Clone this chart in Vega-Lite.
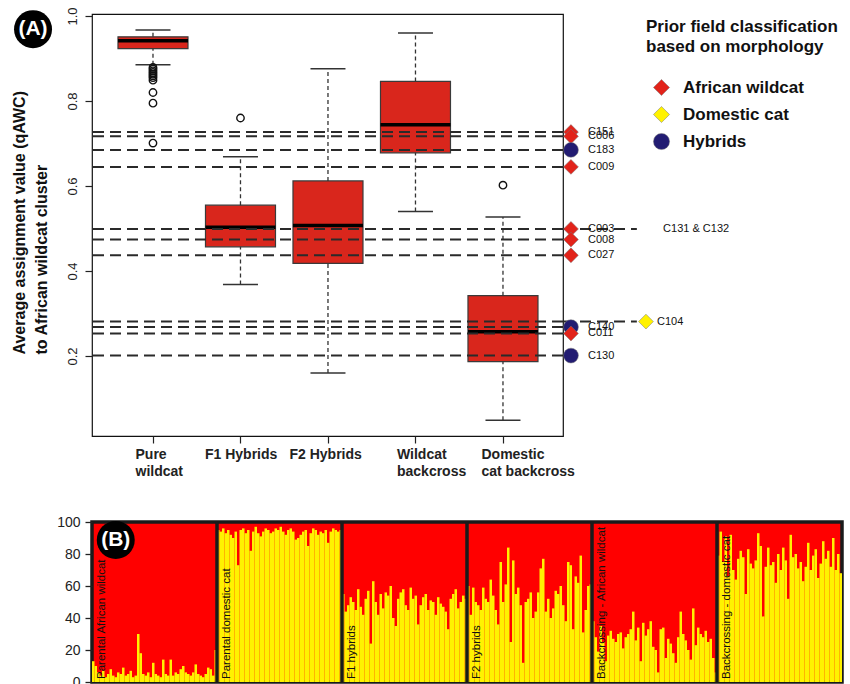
{
"$schema": "https://vega.github.io/schema/vega-lite/v6.json",
"padding": {"left": 10, "top": 6, "right": 0, "bottom": 0},
"spacing": 34,
"config": {"font": "Liberation Sans", "axis": {"grid": false, "labelOverlap": false}},
"datasets": {
"boxes": [
{"grp":"Pure wildcat","k":1,"lo":0.885,"q1":0.923,"med":0.942,"q3":0.951,"hi":0.967},
{"grp":"F1 Hybrids","k":2,"lo":0.368,"q1":0.457,"med":0.503,"q3":0.555,"hi":0.669},
{"grp":"F2 Hybrids","k":3,"lo":0.160,"q1":0.418,"med":0.507,"q3":0.612,"hi":0.876},
{"grp":"Wildcat backcross","k":4,"lo":0.540,"q1":0.678,"med":0.744,"q3":0.846,"hi":0.960},
{"grp":"Domestic cat backcross","k":5,"lo":0.049,"q1":0.187,"med":0.257,"q3":0.342,"hi":0.527}
],
"outliers": [
{"k":1,"q":0.879},{"k":1,"q":0.875},{"k":1,"q":0.871},{"k":1,"q":0.867},{"k":1,"q":0.863},{"k":1,"q":0.859},{"k":1,"q":0.855},{"k":1,"q":0.849},{"k":1,"q":0.820},{"k":1,"q":0.795},{"k":1,"q":0.701},{"k":2,"q":0.760},{"k":5,"q":0.602}
],
"samples": [
{"id":"C151","q":0.727,"cls":"African wildcat"},
{"id":"C006","q":0.717,"cls":"African wildcat"},
{"id":"C183","q":0.685,"cls":"Hybrids"},
{"id":"C009","q":0.645,"cls":"African wildcat"},
{"id":"C003","q":0.499,"cls":"African wildcat"},
{"id":"C008","q":0.474,"cls":"African wildcat"},
{"id":"C027","q":0.437,"cls":"African wildcat"},
{"id":"C104","q":0.281,"cls":"Domestic cat"},
{"id":"C140","q":0.268,"cls":"Hybrids"},
{"id":"C011","q":0.253,"cls":"African wildcat"},
{"id":"C130","q":0.201,"cls":"Hybrids"}
],
"groups": [
{"label":"Parental African wildcat","start":0},
{"label":"Parental domestic cat","start":50},
{"label":"F1 hybrids","start":100},
{"label":"F2 hybrids","start":150},
{"label":"Backcrossing - African wildcat","start":200},
{"label":"Backcrossing - domestic cat","start":250}
],
"structure": [
{"g":1,"i":0,"v":13},{"g":1,"i":1,"v":10},{"g":1,"i":2,"v":6},{"g":1,"i":3,"v":4},{"g":1,"i":4,"v":7},{"g":1,"i":5,"v":3},{"g":1,"i":6,"v":5},{"g":1,"i":7,"v":8},{"g":1,"i":8,"v":4},{"g":1,"i":9,"v":3},
{"g":1,"i":10,"v":6},{"g":1,"i":11,"v":5},{"g":1,"i":12,"v":9},{"g":1,"i":13,"v":4},{"g":1,"i":14,"v":5},{"g":1,"i":15,"v":7},{"g":1,"i":16,"v":3},{"g":1,"i":17,"v":4},{"g":1,"i":18,"v":30},{"g":1,"i":19,"v":18},
{"g":1,"i":20,"v":5},{"g":1,"i":21,"v":4},{"g":1,"i":22,"v":6},{"g":1,"i":23,"v":3},{"g":1,"i":24,"v":12},{"g":1,"i":25,"v":5},{"g":1,"i":26,"v":4},{"g":1,"i":27,"v":3},{"g":1,"i":28,"v":14},{"g":1,"i":29,"v":5},
{"g":1,"i":30,"v":4},{"g":1,"i":31,"v":14},{"g":1,"i":32,"v":4},{"g":1,"i":33,"v":6},{"g":1,"i":34,"v":5},{"g":1,"i":35,"v":8},{"g":1,"i":36,"v":10},{"g":1,"i":37,"v":6},{"g":1,"i":38,"v":5},{"g":1,"i":39,"v":4},
{"g":1,"i":40,"v":6},{"g":1,"i":41,"v":11},{"g":1,"i":42,"v":5},{"g":1,"i":43,"v":4},{"g":1,"i":44,"v":3},{"g":1,"i":45,"v":5},{"g":1,"i":46,"v":9},{"g":1,"i":47,"v":8},{"g":1,"i":48,"v":4},{"g":1,"i":49,"v":20},
{"g":2,"i":50,"v":95},{"g":2,"i":51,"v":94},{"g":2,"i":52,"v":96},{"g":2,"i":53,"v":93},{"g":2,"i":54,"v":95},{"g":2,"i":55,"v":92},{"g":2,"i":56,"v":90},{"g":2,"i":57,"v":94},{"g":2,"i":58,"v":73},{"g":2,"i":59,"v":95},
{"g":2,"i":60,"v":96},{"g":2,"i":61,"v":93},{"g":2,"i":62,"v":95},{"g":2,"i":63,"v":82},{"g":2,"i":64,"v":94},{"g":2,"i":65,"v":97},{"g":2,"i":66,"v":93},{"g":2,"i":67,"v":91},{"g":2,"i":68,"v":94},{"g":2,"i":69,"v":96},
{"g":2,"i":70,"v":95},{"g":2,"i":71,"v":93},{"g":2,"i":72,"v":94},{"g":2,"i":73,"v":96},{"g":2,"i":74,"v":95},{"g":2,"i":75,"v":97},{"g":2,"i":76,"v":94},{"g":2,"i":77,"v":92},{"g":2,"i":78,"v":95},{"g":2,"i":79,"v":96},
{"g":2,"i":80,"v":94},{"g":2,"i":81,"v":89},{"g":2,"i":82,"v":90},{"g":2,"i":83,"v":92},{"g":2,"i":84,"v":94},{"g":2,"i":85,"v":95},{"g":2,"i":86,"v":85},{"g":2,"i":87,"v":93},{"g":2,"i":88,"v":96},{"g":2,"i":89,"v":95},
{"g":2,"i":90,"v":92},{"g":2,"i":91,"v":94},{"g":2,"i":92,"v":93},{"g":2,"i":93,"v":95},{"g":2,"i":94,"v":87},{"g":2,"i":95,"v":94},{"g":2,"i":96,"v":96},{"g":2,"i":97,"v":95},{"g":2,"i":98,"v":94},{"g":2,"i":99,"v":95},
{"g":3,"i":100,"v":55},{"g":3,"i":101,"v":44},{"g":3,"i":102,"v":48},{"g":3,"i":103,"v":53},{"g":3,"i":104,"v":50},{"g":3,"i":105,"v":45},{"g":3,"i":106,"v":58},{"g":3,"i":107,"v":47},{"g":3,"i":108,"v":42},{"g":3,"i":109,"v":52},
{"g":3,"i":110,"v":57},{"g":3,"i":111,"v":24},{"g":3,"i":112,"v":63},{"g":3,"i":113,"v":50},{"g":3,"i":114,"v":42},{"g":3,"i":115,"v":55},{"g":3,"i":116,"v":46},{"g":3,"i":117,"v":56},{"g":3,"i":118,"v":54},{"g":3,"i":119,"v":60},
{"g":3,"i":120,"v":40},{"g":3,"i":121,"v":35},{"g":3,"i":122,"v":52},{"g":3,"i":123,"v":56},{"g":3,"i":124,"v":58},{"g":3,"i":125,"v":48},{"g":3,"i":126,"v":45},{"g":3,"i":127,"v":59},{"g":3,"i":128,"v":52},{"g":3,"i":129,"v":54},
{"g":3,"i":130,"v":36},{"g":3,"i":131,"v":48},{"g":3,"i":132,"v":53},{"g":3,"i":133,"v":55},{"g":3,"i":134,"v":45},{"g":3,"i":135,"v":51},{"g":3,"i":136,"v":50},{"g":3,"i":137,"v":42},{"g":3,"i":138,"v":53},{"g":3,"i":139,"v":49},
{"g":3,"i":140,"v":47},{"g":3,"i":141,"v":44},{"g":3,"i":142,"v":33},{"g":3,"i":143,"v":52},{"g":3,"i":144,"v":55},{"g":3,"i":145,"v":58},{"g":3,"i":146,"v":46},{"g":3,"i":147,"v":50},{"g":3,"i":148,"v":54},{"g":3,"i":149,"v":52},
{"g":4,"i":150,"v":60},{"g":4,"i":151,"v":42},{"g":4,"i":152,"v":59},{"g":4,"i":153,"v":50},{"g":4,"i":154,"v":48},{"g":4,"i":155,"v":45},{"g":4,"i":156,"v":59},{"g":4,"i":157,"v":52},{"g":4,"i":158,"v":50},{"g":4,"i":159,"v":64},
{"g":4,"i":160,"v":54},{"g":4,"i":161,"v":45},{"g":4,"i":162,"v":36},{"g":4,"i":163,"v":75},{"g":4,"i":164,"v":50},{"g":4,"i":165,"v":61},{"g":4,"i":166,"v":84},{"g":4,"i":167,"v":25},{"g":4,"i":168,"v":76},{"g":4,"i":169,"v":55},
{"g":4,"i":170,"v":59},{"g":4,"i":171,"v":48},{"g":4,"i":172,"v":12},{"g":4,"i":173,"v":50},{"g":4,"i":174,"v":52},{"g":4,"i":175,"v":56},{"g":4,"i":176,"v":40},{"g":4,"i":177,"v":44},{"g":4,"i":178,"v":56},{"g":4,"i":179,"v":71},
{"g":4,"i":180,"v":77},{"g":4,"i":181,"v":44},{"g":4,"i":182,"v":52},{"g":4,"i":183,"v":40},{"g":4,"i":184,"v":46},{"g":4,"i":185,"v":57},{"g":4,"i":186,"v":55},{"g":4,"i":187,"v":60},{"g":4,"i":188,"v":48},{"g":4,"i":189,"v":38},
{"g":4,"i":190,"v":75},{"g":4,"i":191,"v":73},{"g":4,"i":192,"v":33},{"g":4,"i":193,"v":66},{"g":4,"i":194,"v":62},{"g":4,"i":195,"v":79},{"g":4,"i":196,"v":31},{"g":4,"i":197,"v":45},{"g":4,"i":198,"v":60},{"g":4,"i":199,"v":61},
{"g":5,"i":200,"v":38},{"g":5,"i":201,"v":28},{"g":5,"i":202,"v":19},{"g":5,"i":203,"v":35},{"g":5,"i":204,"v":25},{"g":5,"i":205,"v":13},{"g":5,"i":206,"v":29},{"g":5,"i":207,"v":32},{"g":5,"i":208,"v":27},{"g":5,"i":209,"v":25},
{"g":5,"i":210,"v":30},{"g":5,"i":211,"v":31},{"g":5,"i":212,"v":21},{"g":5,"i":213,"v":28},{"g":5,"i":214,"v":30},{"g":5,"i":215,"v":33},{"g":5,"i":216,"v":44},{"g":5,"i":217,"v":26},{"g":5,"i":218,"v":34},{"g":5,"i":219,"v":13},
{"g":5,"i":220,"v":37},{"g":5,"i":221,"v":29},{"g":5,"i":222,"v":33},{"g":5,"i":223,"v":38},{"g":5,"i":224,"v":22},{"g":5,"i":225,"v":20},{"g":5,"i":226,"v":6},{"g":5,"i":227,"v":33},{"g":5,"i":228,"v":34},{"g":5,"i":229,"v":15},
{"g":5,"i":230,"v":27},{"g":5,"i":231,"v":24},{"g":5,"i":232,"v":18},{"g":5,"i":233,"v":12},{"g":5,"i":234,"v":28},{"g":5,"i":235,"v":44},{"g":5,"i":236,"v":30},{"g":5,"i":237,"v":26},{"g":5,"i":238,"v":20},{"g":5,"i":239,"v":14},
{"g":5,"i":240,"v":46},{"g":5,"i":241,"v":23},{"g":5,"i":242,"v":34},{"g":5,"i":243,"v":30},{"g":5,"i":244,"v":28},{"g":5,"i":245,"v":32},{"g":5,"i":246,"v":25},{"g":5,"i":247,"v":27},{"g":5,"i":248,"v":15},{"g":5,"i":249,"v":6},
{"g":6,"i":250,"v":79},{"g":6,"i":251,"v":94},{"g":6,"i":252,"v":75},{"g":6,"i":253,"v":91},{"g":6,"i":254,"v":66},{"g":6,"i":255,"v":92},{"g":6,"i":256,"v":70},{"g":6,"i":257,"v":64},{"g":6,"i":258,"v":77},{"g":6,"i":259,"v":82},
{"g":6,"i":260,"v":78},{"g":6,"i":261,"v":55},{"g":6,"i":262,"v":83},{"g":6,"i":263,"v":74},{"g":6,"i":264,"v":71},{"g":6,"i":265,"v":76},{"g":6,"i":266,"v":93},{"g":6,"i":267,"v":85},{"g":6,"i":268,"v":41},{"g":6,"i":269,"v":72},
{"g":6,"i":270,"v":84},{"g":6,"i":271,"v":73},{"g":6,"i":272,"v":75},{"g":6,"i":273,"v":62},{"g":6,"i":274,"v":80},{"g":6,"i":275,"v":70},{"g":6,"i":276,"v":84},{"g":6,"i":277,"v":76},{"g":6,"i":278,"v":52},{"g":6,"i":279,"v":92},
{"g":6,"i":280,"v":78},{"g":6,"i":281,"v":80},{"g":6,"i":282,"v":71},{"g":6,"i":283,"v":75},{"g":6,"i":284,"v":63},{"g":6,"i":285,"v":72},{"g":6,"i":286,"v":87},{"g":6,"i":287,"v":70},{"g":6,"i":288,"v":79},{"g":6,"i":289,"v":83},
{"g":6,"i":290,"v":65},{"g":6,"i":291,"v":74},{"g":6,"i":292,"v":88},{"g":6,"i":293,"v":77},{"g":6,"i":294,"v":82},{"g":6,"i":295,"v":72},{"g":6,"i":296,"v":90},{"g":6,"i":297,"v":70},{"g":6,"i":298,"v":80},{"g":6,"i":299,"v":68}
]
},
"vconcat": [
{
"width": 471, "height": 422,
"view": {"stroke": "#111", "strokeWidth": 1.2},
"layer": [
{"data": {"name": "boxes"},
 "mark": {"type": "bar", "width": 70, "fill": "#d9261c", "stroke": "#3a3a3a", "strokeWidth": 1.2},
 "encoding": {
  "x": {"field": "k", "type": "quantitative", "scale": {"domain": [0.303, 5.686], "nice": false, "zero": false, "padding": 0},
   "axis": {"values": [1,2,3,4,5], "tickCount": 12, "domain": false, "tickSize": 7, "tickColor": "#222", "tickWidth": 1.2, "labelPadding": 4, "labelBaseline": "top", "labelAlign": "left",
    "labelOffset": {"condition": [{"test": "datum.value==1", "value": -18}, {"test": "datum.value==2", "value": -36}, {"test": "datum.value==3", "value": -39}, {"test": "datum.value==4", "value": -19}], "value": -22},
    "labelExpr": "datum.value==1?['Pure','wildcat']:datum.value==2?'F1 Hybrids':datum.value==3?'F2 Hybrids':datum.value==4?['Wildcat','backcross']:['Domestic','cat backcross']",
    "labelFontSize": 14, "labelFontWeight": "bold", "labelColor": "#222", "labelLineHeight": 17, "title": null}},
  "y": {"field": "q1", "type": "quantitative", "scale": {"domain": [0.0118, 1.0047], "nice": false, "zero": false, "padding": 0},
   "axis": {"values": [0.2,0.4,0.6,0.8,1.0], "tickCount": 12, "format": ".1f", "domain": false, "tickSize": 7, "tickColor": "#222", "tickWidth": 1.2, "labelAngle": 270, "labelAlign": "center", "labelBaseline": "bottom", "labelPadding": 6, "labelFontSize": 13, "labelColor": "#222",
    "title": ["Average assignment value (qAWC)", "to African wildcat cluster"], "titleFontSize": 16, "titleFontWeight": "bold", "titleColor": "#111", "titleLineHeight": 22, "titlePadding": 17, "titleAlign": "left", "titleY": 340}},
  "y2": {"field": "q3"}
 }},
{"data": {"name": "boxes"},
 "mark": {"type": "rule", "strokeDash": [4, 3], "strokeWidth": 1.3, "color": "#333"},
 "encoding": {"x": {"field": "k", "type": "quantitative"}, "y": {"field": "q3", "type": "quantitative"}, "y2": {"field": "hi"}}},
{"data": {"name": "boxes"},
 "mark": {"type": "rule", "strokeDash": [4, 3], "strokeWidth": 1.3, "color": "#333"},
 "encoding": {"x": {"field": "k", "type": "quantitative"}, "y": {"field": "lo", "type": "quantitative"}, "y2": {"field": "q1"}}},
{"data": {"name": "boxes"},
 "mark": {"type": "tick", "orient": "horizontal", "size": 35, "thickness": 1.5, "color": "#333", "opacity": 1},
 "encoding": {"x": {"field": "k", "type": "quantitative"}, "y": {"field": "hi", "type": "quantitative"}}},
{"data": {"name": "boxes"},
 "mark": {"type": "tick", "orient": "horizontal", "size": 35, "thickness": 1.5, "color": "#333", "opacity": 1},
 "encoding": {"x": {"field": "k", "type": "quantitative"}, "y": {"field": "lo", "type": "quantitative"}}},
{"data": {"name": "boxes"},
 "mark": {"type": "tick", "orient": "horizontal", "size": 70, "thickness": 3.5, "color": "#000", "opacity": 1},
 "encoding": {"x": {"field": "k", "type": "quantitative"}, "y": {"field": "med", "type": "quantitative"}}},
{"data": {"name": "outliers"},
 "mark": {"type": "point", "shape": "circle", "size": 55, "filled": false, "stroke": "#111", "strokeWidth": 1.4, "opacity": 1},
 "encoding": {"x": {"field": "k", "type": "quantitative"}, "y": {"field": "q", "type": "quantitative"}}},
{"data": {"name": "samples"},
 "mark": {"type": "rule", "strokeDash": [11, 6], "strokeWidth": 2, "color": "#2a2a2a"},
 "encoding": {"y": {"field": "q", "type": "quantitative"}}},
{"data": {"name": "samples"},
 "transform": [{"filter": "datum.id==='C003'||datum.id==='C104'"}],
 "mark": {"type": "rule", "strokeDash": [11, 6], "strokeWidth": 2, "color": "#2a2a2a"},
 "encoding": {"x": {"datum": 5.686}, "x2": {"datum": 6.53}, "y": {"field": "q", "type": "quantitative"}}},
{"data": {"name": "samples"},
 "transform": [{"filter": "datum.id!=='C104'"}],
 "mark": {"type": "point", "filled": true, "size": 220, "opacity": 1, "stroke": "#777", "strokeWidth": 0.5},
 "encoding": {
  "x": {"datum": 5.777},
  "y": {"field": "q", "type": "quantitative"},
  "color": {"field": "cls", "type": "nominal",
   "scale": {"domain": ["African wildcat", "Domestic cat", "Hybrids"], "range": ["#e2231a", "#fff200", "#221c72"]},
   "legend": {"title": ["Prior field classification", "based on morphology"], "orient": "none", "legendX": 554, "legendY": 5, "padding": 0,
    "titleFontSize": 17, "titleFontWeight": "bold", "titleColor": "#111", "titleLineHeight": 20, "titlePadding": 23, "titleLimit": 400,
    "labelFontSize": 17, "labelFontWeight": "bold", "labelColor": "#111", "labelOffset": 13, "labelLimit": 400, "symbolSize": 260, "symbolOffset": 7, "rowPadding": 8, "symbolStrokeWidth": 0.5}},
  "shape": {"field": "cls", "type": "nominal", "scale": {"domain": ["African wildcat", "Domestic cat", "Hybrids"], "range": ["diamond", "diamond", "circle"]}}
 }},
{"data": {"name": "samples"},
 "transform": [{"filter": "datum.id==='C104'"}],
 "mark": {"type": "point", "filled": true, "size": 220, "opacity": 1, "stroke": "#777", "strokeWidth": 0.5},
 "encoding": {
  "x": {"datum": 6.634},
  "y": {"field": "q", "type": "quantitative"},
  "color": {"field": "cls", "type": "nominal"},
  "shape": {"field": "cls", "type": "nominal"}
 }},
{"data": {"name": "samples"},
 "transform": [{"filter": "datum.id!=='C104'"}],
 "mark": {"type": "text", "align": "left", "dx": 17, "fontSize": 11, "color": "#111"},
 "encoding": {"x": {"datum": 5.777}, "y": {"field": "q", "type": "quantitative"}, "text": {"field": "id"}}},
{"data": {"name": "samples"},
 "transform": [{"filter": "datum.id==='C104'"}],
 "mark": {"type": "text", "align": "left", "dx": 11, "fontSize": 11, "color": "#111"},
 "encoding": {"x": {"datum": 6.634}, "y": {"field": "q", "type": "quantitative"}, "text": {"field": "id"}}},
{"data": {"values": [{"label": "C131 & C132", "q": 0.499}]},
 "mark": {"type": "text", "align": "left", "fontSize": 11, "color": "#111"},
 "encoding": {"x": {"datum": 6.83}, "y": {"field": "q", "type": "quantitative"}, "text": {"field": "label"}}},
{"data": {"values": [{"t": "(A)"}]},
 "mark": {"type": "point", "shape": "circle", "filled": true, "size": 1444, "color": "#000", "opacity": 1},
 "encoding": {"x": {"datum": -0.371}, "y": {"datum": 0.969}}},
{"data": {"values": [{"t": "(A)"}]},
 "mark": {"type": "text", "fontSize": 21, "fontWeight": "bold", "color": "#fff"},
 "encoding": {"x": {"datum": -0.371}, "y": {"datum": 0.969}, "text": {"field": "t"}}}
]
},
{
"width": 750, "height": 160,
"view": {"stroke": "#1a1a1a", "strokeWidth": 3.5, "fill": "#ff0000"},
"layer": [
{"data": {"name": "structure"},
 "mark": {"type": "bar", "color": "#fff200"},
 "encoding": {
  "x": {"field": "i", "type": "ordinal", "axis": null, "scale": {"paddingInner": 0, "paddingOuter": 0}},
  "y": {"field": "v", "type": "quantitative", "scale": {"domain": [0, 100], "nice": false},
   "axis": {"values": [0,20,40,60,80,100], "tickCount": 10, "labelOverlap": false, "domain": false, "tickSize": 7, "tickColor": "#222", "tickWidth": 1.3, "labelFontSize": 14, "labelColor": "#222", "labelPadding": 5, "title": null}}
 }},
{"data": {"name": "groups"},
 "transform": [{"filter": "datum.start>0"}],
 "mark": {"type": "rule", "color": "#1a1a1a", "strokeWidth": 3.5},
 "encoding": {"x": {"field": "start", "type": "ordinal", "bandPosition": 0}}},
{"data": {"name": "groups"},
 "mark": {"type": "text", "angle": 270, "align": "left", "baseline": "top", "dx": 3, "dy": 4, "fontSize": 11.5, "color": "#111"},
 "encoding": {"x": {"field": "start", "type": "ordinal", "bandPosition": 0}, "y": {"datum": 0}, "text": {"field": "label"}}},
{"data": {"values": [{"t": "(B)"}]},
 "mark": {"type": "point", "shape": "circle", "filled": true, "size": 1444, "color": "#000", "opacity": 1},
 "encoding": {"x": {"datum": 9, "type": "ordinal"}, "y": {"datum": 88.75}}},
{"data": {"values": [{"t": "(B)"}]},
 "mark": {"type": "text", "fontSize": 21, "fontWeight": "bold", "color": "#fff"},
 "encoding": {"x": {"datum": 9, "type": "ordinal"}, "y": {"datum": 88.75}, "text": {"field": "t"}}}
]
}
]
}
